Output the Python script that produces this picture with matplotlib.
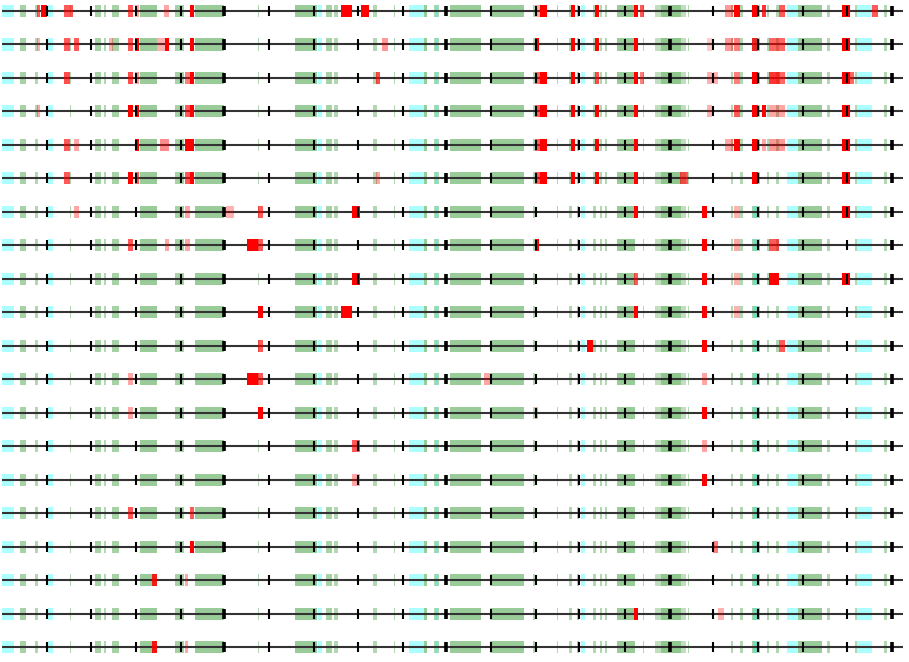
import matplotlib
matplotlib.use("Agg")
import matplotlib.pyplot as plt

SEQ_START = 2
SEQ_END = 903
N_ROWS = 20

# scale marks along the sequence (every 5th is heavier)
scale_ticks = [47, 91, 136, 181, 224, 269, 314, 358, 403, 446,
               491, 536, 579, 625, 670, 713, 758, 803, 847, 892]
major_ticks = [224, 446, 670, 892]

# shared annotation, same on every row: (start, end, strength)
green_feats = [(20, 26, 0.35), (35, 38, 0.3), (70, 71, 0.3), (95, 101, 0.35),
               (104, 106, 0.3), (112, 119, 0.35), (140, 157, 0.4), (175, 184, 0.35),
               (195, 224, 0.4), (258, 259, 0.3), (295, 317, 0.4), (326, 332, 0.35),
               (334, 338, 0.3), (373, 377, 0.3), (394, 395, 0.3), (424, 427, 0.4),
               (434, 439, 0.3), (450, 481, 0.4), (490, 524, 0.4), (533, 535, 0.3),
               (557, 558, 0.3), (569, 572, 0.3), (577, 579, 0.35), (593, 596, 0.3),
               (600, 602, 0.3), (605, 607, 0.3), (617, 635, 0.4), (643, 644, 0.3),
               (655, 686, 0.25), (661, 681, 0.25), (688, 689, 0.3), (731, 733, 0.3),
               (740, 743, 0.3), (752, 760, 0.35), (767, 769, 0.3), (776, 779, 0.3),
               (798, 822, 0.4), (827, 830, 0.3), (855, 857, 0.3), (884, 887, 0.3)]
cyan_feats = [(2, 14), (48, 53), (318, 322), (409, 424), (435, 438),
              (581, 585), (753, 757), (787, 798), (857, 872)]

# per-row variants: (start, end, strength)
red_rows = [
    [(37, 40, 0.65), (41, 47, 1), (64, 70, 0.65), (70, 73, 0.65), (128, 133, 0.65),
     (135, 139, 0.35), (164, 169, 0.35), (190, 194, 1), (341, 352, 1), (361, 369, 1),
     (535, 540, 0.35), (540, 547, 1), (571, 575, 1), (595, 599, 1), (634, 638, 1),
     (640, 644, 0.65), (725, 733, 0.4), (734, 740, 1), (752, 758, 1), (762, 766, 0.8),
     (779, 785, 0.65), (842, 850, 1), (872, 878, 0.65)],
    [(37, 40, 0.3), (64, 70, 0.65), (74, 79, 0.65), (109, 113, 0.3), (128, 133, 0.65),
     (135, 139, 1), (157, 165, 0.3), (165, 169, 1), (190, 194, 1), (382, 388, 0.4),
     (535, 539, 1), (571, 575, 1), (595, 599, 1), (634, 638, 1), (707, 712, 0.2),
     (725, 733, 0.4), (734, 740, 0.5), (752, 758, 0.8), (769, 777, 0.6),
     (777, 780, 0.6), (780, 785, 0.6), (842, 850, 1)],
    [(64, 70, 0.7), (128, 133, 0.7), (135, 139, 0.4), (185, 190, 0.5), (190, 194, 1),
     (376, 380, 0.7), (535, 540, 0.6), (540, 547, 1), (571, 575, 1), (595, 599, 0.7),
     (634, 638, 1), (640, 644, 0.5), (707, 712, 0.3), (713, 718, 0.3), (734, 740, 0.5),
     (752, 758, 1), (769, 780, 0.8), (780, 785, 0.6), (842, 850, 1), (850, 854, 0.6)],
    [(37, 40, 0.35), (128, 133, 1), (135, 139, 1), (185, 190, 0.65), (190, 194, 1),
     (535, 540, 0.65), (540, 547, 1), (571, 575, 1), (595, 599, 1), (634, 638, 1),
     (707, 712, 0.3), (734, 740, 0.65), (752, 758, 1), (762, 766, 1), (769, 785, 0.35),
     (842, 850, 1)],
    [(64, 70, 0.65), (74, 79, 0.35), (135, 139, 1), (160, 169, 0.45), (185, 190, 1),
     (190, 194, 1), (535, 540, 0.65), (540, 547, 1), (571, 575, 1), (595, 599, 1),
     (634, 638, 1), (725, 733, 0.35), (734, 740, 1), (752, 758, 1), (762, 766, 0.35),
     (769, 785, 0.4), (842, 850, 1)],
    [(64, 70, 0.65), (128, 133, 1), (135, 139, 0.65), (185, 190, 0.65), (190, 194, 1),
     (376, 380, 0.35), (535, 540, 0.65), (540, 547, 1), (571, 575, 1), (595, 599, 1),
     (634, 638, 1), (680, 688, 0.65), (752, 758, 1), (842, 850, 1)],
    [(74, 79, 0.35), (185, 190, 0.35), (226, 234, 0.3), (258, 263, 0.65), (352, 360, 1),
     (634, 638, 1), (702, 707, 1), (734, 740, 0.3), (842, 850, 1)],
    [(128, 133, 0.65), (165, 169, 0.35), (185, 190, 0.35), (247, 258, 1),
     (258, 263, 0.65), (535, 539, 1), (702, 707, 1), (734, 740, 0.35),
     (769, 779, 0.65)],
    [(352, 360, 1), (634, 638, 0.65), (702, 707, 1), (734, 740, 0.3), (769, 779, 1),
     (842, 850, 1)],
    [(258, 263, 1), (341, 352, 1), (634, 638, 1), (702, 707, 1), (734, 740, 0.3)],
    [(258, 263, 0.65), (587, 593, 1), (702, 707, 1), (779, 785, 0.65)],
    [(128, 133, 0.35), (247, 258, 1), (258, 263, 0.65), (484, 490, 0.35),
     (702, 707, 0.35)],
    [(128, 133, 0.35), (258, 263, 1), (535, 538, 0.35), (702, 707, 1)],
    [(352, 360, 0.65), (702, 707, 0.35)],
    [(352, 360, 0.35), (702, 707, 1)],
    [(128, 133, 0.65), (190, 194, 0.65)],
    [(190, 194, 1), (713, 718, 0.5)],
    [(152, 157, 0.85), (185, 188, 0.35)],
    [(634, 638, 1), (718, 724, 0.3)],
    [(152, 157, 0.9), (185, 188, 0.35)],
]

BOX_H = 0.36
TICK_H = 0.30

fig = plt.figure(figsize=(9.09, 6.62), dpi=100)
ax = fig.add_axes([0, 0, 1, 1])

for row, variants in enumerate(red_rows):
    y0 = row - BOX_H / 2
    for s, e, a in green_feats:
        ax.broken_barh([(s, e - s)], (y0, BOX_H), color="green", alpha=a, lw=0)
    for s, e in cyan_feats:
        ax.broken_barh([(s, e - s)], (y0, BOX_H), color="cyan", alpha=0.33, lw=0)
    ax.hlines(row, SEQ_START, SEQ_END, color="#333333", lw=1.5, zorder=3)
    for s, e, a in variants:
        ax.broken_barh([(s, e - s)], (y0, BOX_H), color="red", alpha=a, lw=0, zorder=4)
    for t in scale_ticks:
        w = 2.6 if t in major_ticks else 1.5
        ax.vlines(t, row - TICK_H / 2, row + TICK_H / 2, color="black", lw=w, zorder=5)

ax.set_xlim(0, 909)
ax.set_ylim(19.448, -0.329)
ax.axis("off")

fig.savefig("out.png", dpi=100)
